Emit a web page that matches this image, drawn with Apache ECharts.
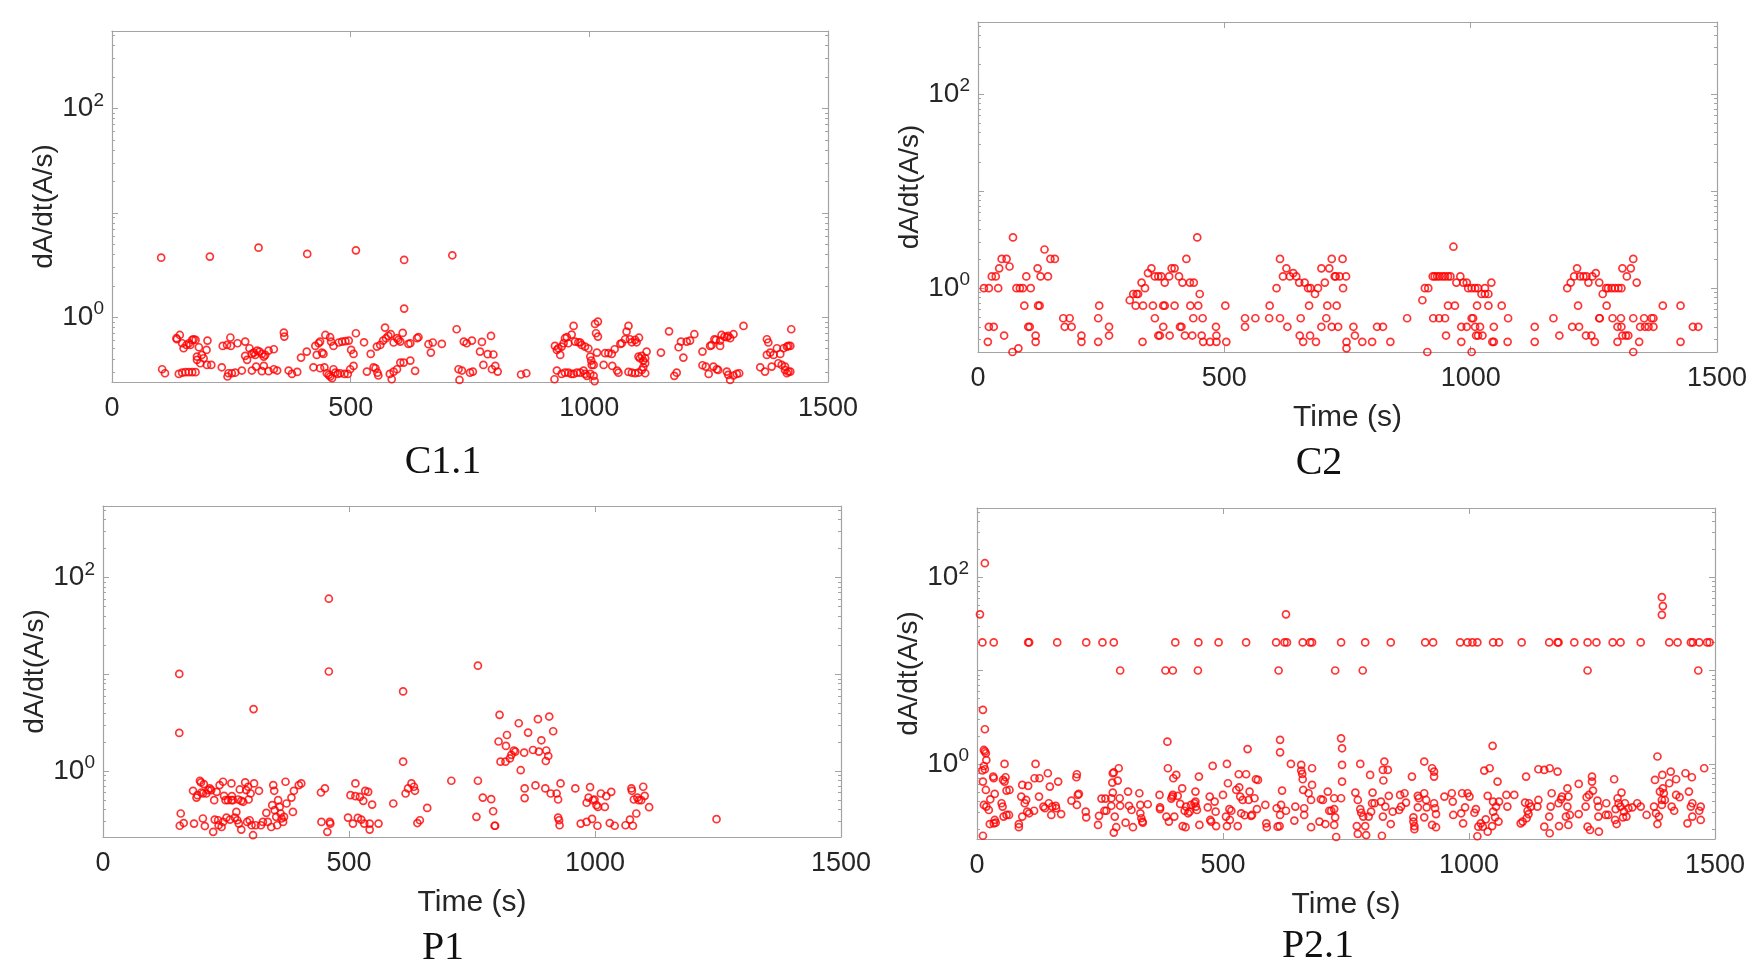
<!DOCTYPE html>
<html>
<head>
<meta charset="utf-8">
<script src="https://cdn.jsdelivr.net/npm/echarts@6/dist/echarts.min.js"></script>
<style>
  html, body { margin: 0; padding: 0; background: #fff; }
  #chart { width: 1763px; height: 975px; }
</style>
</head>
<body>
<div id="chart"></div>
<script>
// [time (s), dA/dt (A/s)]
const c11 = [
  [103,3.72],[205,3.81],[307,4.64],[409,4.04],[511,4.37],[612,3.54],[612,1.21],[713,3.92],
  [105,0.318],[111,0.291],[136,0.616],[142,0.677],[135,0.630],[147,0.564],[150,0.505],[156,0.543],[161,0.564],[164,0.543],[168,0.607],[171,0.616],[175,0.607],
  [140,0.287],[147,0.295],[154,0.298],[161,0.298],[168,0.298],[175,0.298],
  [182,0.516],[178,0.420],[178,0.391],[185,0.363],[188,0.436],[192,0.405],[198,0.487],[199,0.350],[200,0.598],[208,0.350],
  [230,0.332],[232,0.532],[241,0.543],[242,0.271],[244,0.291],[248,0.640],[249,0.532],[251,0.291],[258,0.295],[263,0.564],[272,0.309],
  [279,0.585],[279,0.427],[283,0.391],[288,0.505],[293,0.446],[297,0.459],[300,0.436],[304,0.480],[309,0.469],[314,0.446],[318,0.420],[321,0.436],[328,0.480],[339,0.494],
  [293,0.309],[302,0.337],[314,0.305],[318,0.342],[328,0.305],[339,0.318],[346,0.309],
  [360,0.713],[361,0.653],[370,0.309],[377,0.287],[388,0.300],[396,0.411],[408,0.469],
  [422,0.332],[426,0.532],[429,0.436],[433,0.564],[436,0.585],[440,0.459],[443,0.446],[447,0.677],[457,0.644],[459,0.585],[464,0.532],[475,0.573],[482,0.585],[489,0.590],[496,0.598],[501,0.487],[506,0.446],
  [436,0.325],[445,0.332],[450,0.291],[454,0.281],[457,0.271],[461,0.261],[464,0.318],[468,0.295],[473,0.287],[478,0.291],[487,0.287],[494,0.287],[499,0.318],[506,0.342],
  [511,0.703],[528,0.576],[534,0.302],[542,0.446],[548,0.332],[552,0.325],[556,0.295],[558,0.277],[555,0.524],[562,0.543],[568,0.598],[572,0.796],[574,0.630],[579,0.663],[584,0.688],[590,0.573],[597,0.630],[600,0.607],[604,0.585],[609,0.708],[621,0.556],[625,0.564],
  [582,0.287],[586,0.255],[590,0.302],[597,0.318],[604,0.368],[611,0.368],[625,0.385],[635,0.307],
  [639,0.630],[642,0.644],[663,0.552],[668,0.459],[672,0.573],[691,0.556],
  [722,0.768],[726,0.318],[728,0.251],[733,0.309],[737,0.585],[743,0.564],[750,0.295],[754,0.598],[756,0.302],
  [771,0.469],[775,0.581],[778,0.350],[787,0.443],[794,0.663],[796,0.318],[799,0.440],[803,0.342],[808,0.302],
  [857,0.283],[868,0.291],[927,0.255],
  [928,0.532],[932,0.487],[935,0.505],[939,0.436],[942,0.524],[946,0.564],[949,0.630],[953,0.644],[956,0.564],[963,0.683],[967,0.826],[970,0.585],[977,0.576],[981,0.573],[984,0.543],[991,0.524],[998,0.502],[1002,0.420],[1004,0.385],[1005,0.350],[1009,0.350],[1014,0.703],[1018,0.653],[1012,0.863],[1018,0.909],
  [932,0.309],[942,0.287],[949,0.295],[956,0.295],[962,0.287],[967,0.287],[974,0.295],[981,0.295],[988,0.309],[991,0.287],[995,0.275],[1002,0.287],[1009,0.275],[1011,0.245],
  [1016,0.459],[1030,0.350],[1033,0.453],[1040,0.453],[1047,0.446],[1048,0.342],[1053,0.494],[1058,0.309],[1061,0.295],[1065,0.556],[1068,0.564],[1075,0.616],[1078,0.729],[1082,0.826],[1085,0.616],[1089,0.576],[1096,0.607],[1099,0.576],[1104,0.637],[1103,0.420],[1106,0.405],[1110,0.427],[1113,0.385],[1117,0.405],[1120,0.469],[1117,0.363],[1113,0.332],[1110,0.313],[1117,0.291],
  [1082,0.300],[1089,0.295],[1096,0.291],[1103,0.295],
  [1150,0.459],[1167,0.733],[1178,0.275],[1183,0.295],[1187,0.516],[1192,0.585],[1197,0.411],[1204,0.585],[1211,0.598],[1220,0.688],
  [1237,0.469],[1237,0.347],[1244,0.337],[1250,0.287],[1253,0.532],[1256,0.540],[1260,0.337],[1262,0.616],[1265,0.607],[1267,0.318],[1270,0.313],[1274,0.598],[1274,0.532],[1277,0.677],[1283,0.653],[1288,0.644],[1291,0.663],[1295,0.630],[1302,0.688],[1288,0.302],[1291,0.281],[1295,0.251],[1302,0.277],[1309,0.287],[1314,0.291],[1323,0.826],
  [1358,0.332],[1368,0.302],[1372,0.616],[1375,0.573],[1372,0.436],[1379,0.459],[1382,0.337],[1386,0.436],[1393,0.505],[1396,0.363],[1400,0.446],[1403,0.350],[1407,0.505],[1410,0.337],[1414,0.524],[1417,0.532],[1421,0.532],[1410,0.313],[1414,0.291],[1417,0.302],[1421,0.302],[1423,0.768]
];

const c2 = [
  [12,1.0],[22,1.0],[20,0.28],[22,0.40],[32,0.40],[28,1.32],[36,1.32],[41,1.0],[43,1.6],[48,2.0],[53,0.325],[58,2.0],[64,1.67],[70,0.22],[71,3.33],[78,1.0],[82,0.24],[85,1.0],[91,1.0],[94,0.66],[98,1.32],[102,0.40],[105,0.40],[107,1.0],[117,0.325],[117,0.28],[121,1.6],[122,0.66],[125,0.66],[127,1.32],[135,2.5],[142,1.32],[147,2.0],[156,2.0],
  [173,0.49],[186,0.49],[176,0.40],[190,0.40],[210,0.325],[210,0.28],[244,0.49],[246,0.66],[244,0.28],[266,0.40],[266,0.325],
  [308,0.75],[315,0.87],[322,0.87],[325,0.87],[320,0.66],[332,1.14],[335,0.66],[334,0.28],[339,1.0],[345,1.43],[352,1.6],[359,1.32],[366,1.32],[372,1.32],[379,1.14],[388,1.32],[393,1.6],[399,1.6],[408,1.32],[415,1.14],[423,2.0],[430,1.14],[438,1.14],[445,3.33],[450,0.87],[447,0.66],[431,0.66],[456,0.49],[454,0.325],[457,0.28],[471,0.28],[484,0.28],[483,0.40],[484,0.325],
  [355,0.66],[359,0.49],[366,0.325],[369,0.325],[376,0.40],[376,0.66],[379,0.66],[389,0.325],[399,0.66],[410,0.40],[413,0.40],[420,0.325],[435,0.325],[437,0.49],[502,0.66],[504,0.28],
  [542,0.49],[542,0.40],[563,0.49],[591,0.49],[592,0.66],[606,1.0],[613,2.0],[619,1.32],[613,0.49],[628,0.40],[626,1.6],[633,1.32],[640,1.43],[646,1.32],[652,1.14],[653,0.325],[660,0.28],[655,0.49],[663,1.14],[670,1.0],[675,1.0],[684,0.87],[690,1.0],[674,0.325],[672,0.66],[686,0.28],[697,0.40],[697,1.6],[704,1.14],[707,0.49],[709,0.66],[713,1.6],[718,2.0],[724,1.32],[728,0.66],[731,0.40],[718,0.40],[726,1.32],[734,1.32],[740,2.0],[741,1.0],[747,1.32],[748,0.28],[748,0.24],
  [762,0.40],[765,0.325],[780,0.28],[800,0.28],[810,0.40],[822,0.40],[837,0.28],[871,0.49],[902,0.75],[907,1.0],[912,0.22],[914,1.0],[923,1.32],[927,1.32],[932,1.32],[937,1.32],[943,1.32],[948,1.32],[954,1.32],[959,1.32],[965,2.67],[971,1.14],[979,1.32],[985,1.14],[992,1.14],[995,1.0],[1002,1.0],[1009,1.0],[1015,1.0],[1022,0.87],[1029,0.87],[1036,0.87],[1029,1.0],[1042,1.14],
  [924,0.49],[936,0.49],[948,0.49],[950,0.325],[954,0.66],[968,0.66],[981,0.40],[981,0.28],[992,0.40],[1002,0.49],[1005,0.49],[1009,0.40],[1011,0.325],[1013,0.66],[1015,0.325],[1019,0.40],[1024,0.325],[1036,0.66],[1044,0.28],[1047,0.28],[1047,0.40],[1063,0.66],[1075,0.28],[1076,0.49],[1002,0.22],
  [1130,0.40],[1130,0.28],[1168,0.49],[1180,0.325],[1196,1.0],[1203,1.14],[1210,1.32],[1216,1.6],[1218,0.66],[1222,1.32],[1206,0.40],[1220,0.40],[1229,1.32],[1234,0.325],[1235,1.32],[1239,1.14],[1245,0.325],[1247,1.32],[1252,0.28],[1254,1.43],[1261,1.14],[1268,0.87],[1275,1.0],[1279,1.0],[1286,1.0],[1293,1.0],[1300,1.0],[1306,1.0],
  [1261,0.49],[1262,0.49],[1276,0.66],[1288,0.49],[1298,0.40],[1305,0.49],[1306,0.40],[1308,0.325],[1315,0.325],[1320,0.325],[1308,1.6],[1317,1.32],[1325,1.6],[1330,2.0],[1330,0.49],[1337,1.14],[1342,0.28],[1330,0.22],[1298,0.28],[1344,0.40],[1352,0.49],[1354,0.40],[1361,0.40],[1367,0.49],[1371,0.49],[1371,0.40],[1390,0.66],[1426,0.66],[1426,0.28],[1451,0.40],[1462,0.40]
];

const p1 = [
  [155,10.1],[155,2.48],[306,4.37],[459,60.5],[459,10.7],[610,6.66],[610,1.25],[708,0.794],[762,12.3],
  [158,0.364],[156,0.272],[164,0.290],[185,0.286],[183,0.625],[190,0.532],[192,0.563],[197,0.794],[199,0.763],[200,0.600],[203,0.586],[205,0.733],[203,0.323],[207,0.270],[210,0.586],[214,0.635],[217,0.661],[220,0.635],[224,0.235],[226,0.500],[227,0.315],[231,0.610],[234,0.310],[235,0.275],[237,0.716],[241,0.264],[244,0.775],[244,0.298],[246,0.554],[249,0.500],[251,0.330],[254,0.500],[258,0.315],[261,0.745],[261,0.500],[262,0.550],[264,0.500],[268,0.330],[271,0.378],[273,0.310],[275,0.508],[276,0.286],[278,0.645],[281,0.492],[281,0.248],[285,0.481],[288,0.205],[289,0.763],[291,0.635],[293,0.298],[295,0.688],[296,0.508],[298,0.310],[300,0.586],[302,0.275],[305,0.217],[307,0.745],[310,0.275],[317,0.625],[321,0.275],[325,0.298],[332,0.370],[335,0.298],[342,0.264],[344,0.444],[346,0.716],[348,0.625],[349,0.394],[352,0.336],[354,0.275],[356,0.500],[359,0.426],[361,0.364],[363,0.323],[366,0.298],[368,0.336],[371,0.775],[373,0.462],[383,0.532],[386,0.378],[388,0.625],[398,0.716],[403,0.745],
  [443,0.600],[451,0.661],[444,0.298],[456,0.235],[461,0.298],[462,0.286],[498,0.330],[503,0.563],[508,0.286],[513,0.745],[513,0.550],[518,0.328],[522,0.541],[525,0.315],[529,0.492],[531,0.286],[533,0.625],[539,0.610],[542,0.286],[542,0.248],[547,0.450],[560,0.286],[590,0.462],[615,0.586],[620,0.661],[627,0.745],[632,0.688],[634,0.625],[659,0.416],[639,0.290],[644,0.310],
  [762,0.794],[759,0.336],[772,0.532],[789,0.512],[793,0.384],[796,0.272],[797,0.272],
  [806,3.81],[804,2.02],[808,1.25],[818,1.25],[819,1.82],[821,2.36],[827,1.35],[830,1.47],[835,1.63],[838,1.59],[845,3.12],[849,1.02],[856,1.55],[857,0.661],[857,0.525],[864,2.50],[874,1.65],[879,0.710],[884,3.44],[886,1.59],[891,2.08],[899,0.661],[900,1.27],[901,1.63],[905,1.43],[907,3.66],[910,0.586],[915,2.58],[922,0.586],[925,0.508],[925,0.330],[927,0.310],[928,0.275],[930,0.745],
  [960,0.661],[983,0.470],[987,0.532],[990,0.682],[996,0.500],[999,0.508],[1003,0.444],[1006,0.426],[1012,0.586],[1020,0.426],[1023,0.550],[1033,0.610],[971,0.286],[983,0.298],[994,0.320],[1005,0.272],[1030,0.290],[1040,0.272],[1062,0.275],[1071,0.315],[1077,0.272],[1074,0.661],[1075,0.625],[1079,0.508],[1084,0.364],[1086,0.532],[1089,0.500],[1094,0.500],[1098,0.688],[1101,0.554],[1110,0.423],[1247,0.318]
];

const p21 = [
  [6,40],[16,141],[11,20],[34,20],[104,20],[106,20],[163,20],[222,20],[255,20],[278,20],[403,20],[450,20],[491,20],[547,20],[608,20],[625,20],[630,20],[662,20],[677,20],[681,20],[740,20],[291,10],[383,10],[398,10],[449,10],[613,10],[728,10],[628,40],
  [12,3.79],[16,2.35],[14,1.41],[16,1.36],[18,1.30],[19,1.10],[14,0.95],[11,0.85],[12,0.647],[16,0.877],[18,0.526],[14,0.364],[19,0.349],[24,0.321],[27,0.418],[26,0.227],[12,0.170],[33,0.731],[34,0.702],[36,0.477],[36,0.251],[38,0.235],[34,0.231],[50,0.379],[52,0.349],[53,0.674],[56,1.0],[58,0.720],[56,0.647],[60,0.518],[54,0.273],[60,0.284],[66,0.526],[65,0.284],
  [85,0.227],[85,0.210],[90,0.447],[92,0.596],[92,0.273],[97,0.379],[100,0.411],[102,0.308],[104,0.582],[106,0.296],[116,0.315],[119,1.0],[117,0.702],[126,0.447],[127,0.702],[135,0.349],[138,0.335],[144,0.794],[148,0.572],[146,0.379],[151,0.284],[153,0.349],[160,0.356],[161,0.335],[165,0.647],[171,0.290],
  [192,0.404],[202,0.720],[203,0.775],[205,0.466],[203,0.364],[207,0.477],[221,0.308],[222,0.268],[246,0.222],[248,0.278],[253,0.425],[261,0.425],[259,0.315],[263,0.315],[273,0.356],[273,0.429],[276,0.493],[275,0.631],[276,0.794],[278,0.810],[280,0.273],[283,0.210],[278,0.184],[286,0.663],[288,0.899],[290,0.429],[291,0.356],[307,0.505],[309,0.356],[314,0.321],[317,0.210],[302,0.235],[330,0.485],[332,0.364],[332,0.296],[334,0.262],[336,0.241],[337,0.235],[347,0.370],
  [371,0.466],[372,0.343],[372,0.328],[388,0.899],[387,1.73],[385,0.273],[390,0.241],[395,0.425],[397,0.447],[398,0.466],[399,0.702],[401,0.273],[405,0.762],[408,0.455],[413,0.373],[417,0.548],[418,0.216],[424,0.210],[425,0.349],[422,0.315],[429,0.296],[432,0.308],[435,0.364],[442,0.379],[444,0.505],[444,0.395],[445,0.349],[447,0.321],[451,0.731],[452,0.222],
  [469,0.343],[473,0.447],[474,0.251],[476,0.241],[479,0.952],[483,0.395],[485,0.308],[486,0.216],[500,0.466],[508,1.0],[510,0.621],[506,0.273],[508,0.216],[513,0.328],[514,0.251],[517,0.315],[527,0.526],[530,0.216],[532,0.775],[533,0.562],[535,0.447],[537,0.296],[540,0.411],[544,0.282],[547,0.775],[550,1.44],[552,0.411],[554,0.505],[557,0.278],[559,0.284],[564,0.429],[567,0.685],[569,0.328],[571,0.674],
  [586,0.364],[588,0.231],[589,0.210],[609,0.335],[611,0.213],[615,0.216],[616,0.284],[618,0.364],[616,1.81],[616,1.33],[620,0.518],[628,0.315],[638,1.0],[647,0.349],[645,0.247],[659,0.975],[659,0.848],[661,0.781],[662,0.685],[663,0.526],[665,0.335],[665,0.284],[674,0.485],[679,0.411],[681,0.899],[681,0.596],[679,0.210],[696,0.241],[699,0.418],[703,0.411],[708,0.227],[713,0.505],[716,0.315],[720,0.315],[726,0.328],[726,0.429],[728,0.268],[726,0.222],[730,0.165],[740,1.88],[742,1.47],[742,0.975],[742,0.647],[740,0.429],
  [789,20],[841,20],[911,20],[927,20],[982,20],[997,20],[1007,20],[1017,20],[1049,20],[1061,20],[1107,20],[1163,20],[1180,20],[1182,20],[1214,20],[1241,20],[1259,20],[1292,20],[1308,20],[1349,20],[1407,20],[1424,20],[1451,20],[1455,20],[1468,20],[1484,20],[1489,20],
  [784,10],[1241,10],[1466,10],[1392,61],[1394,49],[1392,39.5],
  [769,0.493],[774,0.411],[772,0.216],[774,0.178],[779,1.0],[779,0.328],[781,0.300],[785,0.273],[789,0.216],[791,0.173],[796,0.273],[799,0.762],[801,0.308],[803,0.379],[804,0.493],[808,0.379],[821,0.395],[825,0.273],[823,0.170],[826,0.664],[825,0.863],[828,1.06],[830,0.349],[835,0.863],[837,0.455],[841,0.227],[845,0.308],[858,0.321],[862,0.349],[860,0.466],[869,0.485],[872,0.385],[884,0.731],[887,0.268],[887,0.241],[889,0.216],[889,0.200],[896,0.455],[898,0.429],[896,0.343],
  [909,1.06],[909,0.485],[909,0.268],[914,0.343],[913,0.411],[925,0.899],[929,0.828],[929,0.731],[929,0.379],[931,0.335],[933,0.290],[925,0.222],[933,0.210],[950,0.447],[965,0.485],[967,0.395],[968,0.284],[984,0.296],[986,0.485],[988,0.231],[992,0.343],[997,0.485],[1001,0.447],[1011,0.300],[1014,0.328],[1019,0.213],[1017,0.168],[1024,0.231],[1028,0.213],[1031,0.848],[1034,0.255],[1038,0.188],[1038,0.455],[1042,0.899],[1047,0.216],[1048,1.56],[1049,0.308],[1049,0.395],[1053,0.268],[1055,0.349],[1058,0.647],[1060,0.241],[1061,0.395],
  [1076,0.466],[1078,0.349],[1092,0.466],[1105,0.231],[1109,0.241],[1114,0.385],[1116,0.731],[1117,0.262],[1119,0.315],[1121,0.290],[1122,0.379],[1126,0.349],[1139,0.349],[1141,0.877],[1141,0.411],[1153,0.863],[1153,0.213],[1163,0.273],[1164,0.899],[1164,0.181],[1166,0.349],[1168,0.485],[1180,0.828],[1182,0.379],[1183,0.216],[1187,0.418],[1189,0.447],[1197,0.273],[1200,0.548],[1200,0.349],[1202,0.222],[1202,0.447],[1205,0.284],
  [1223,0.611],[1223,0.290],[1237,0.349],[1239,0.440],[1241,0.213],[1244,0.466],[1246,0.196],[1250,0.731],[1250,0.647],[1252,0.518],[1261,0.404],[1263,0.349],[1263,0.273],[1264,0.188],[1278,0.284],[1279,0.379],[1283,0.284],[1295,0.685],[1297,0.251],[1298,0.328],[1300,0.227],[1302,0.429],[1304,0.379],[1308,0.349],[1310,0.493],[1313,0.268],[1315,0.308],[1317,0.379],[1320,0.273],[1324,0.335],[1332,0.343],[1342,0.379],[1349,0.349],[1361,0.284],
  [1376,0.349],[1378,0.674],[1380,0.296],[1383,1.20],[1383,0.227],[1386,0.273],[1388,0.505],[1392,0.411],[1393,0.762],[1392,0.364],[1394,0.548],[1396,0.485],[1398,0.411],[1407,0.621],[1410,0.828],[1412,0.349],[1417,0.315],[1421,0.685],[1421,0.466],[1428,0.440],[1440,0.794],[1444,0.231],[1447,0.505],[1451,0.349],[1453,0.720],[1454,0.379],[1454,0.273],[1468,0.315],[1471,0.349],[1471,0.251],[1478,0.899]
];

const panelNames = ['C1.1', 'C2', 'P1', 'P2.1'];
const panelData = [c11, c2, p1, p21];
const yMins = [0.24, 0.22, 0.208, 0.157];
const yMax = 550;
const xTicks = [0, 500, 1000, 1500];
const xNames = ['', 'Time (s)', 'Time (s)', 'Time (s)'];

// plot boxes [left, top, width, height]
const boxes = [
  [112, 31, 716, 351],
  [978, 22, 739, 330],
  [103, 506, 738, 331],
  [977, 508, 738, 331]
];
const titlePos = [[443, 462], [1319, 463], [443, 948], [1318, 946]];

const axisGray = '#a3a3a3';
const textDark = '#262626';
const sans = '"Liberation Sans", Arial, sans-serif';

const chart = echarts.init(document.getElementById('chart'));

function powLabel(v) {
  const e = Math.log10(v);
  const r = Math.round(e);
  if (Math.abs(e - r) > 1e-6 || (r !== 0 && r !== 2)) return '';
  return '{b|10}{s|' + r + '}';
}

const grids = [], xAxes = [], yAxes = [], series = [];

boxes.forEach((b) => {
  grids.push({ left: b[0], top: b[1], width: b[2], height: b[3], outerBoundsMode: 'none' });
});

// bottom x axes
boxes.forEach((b, i) => {
  xAxes.push({
    type: 'value', gridIndex: i, position: 'bottom',
    min: xTicks[0], max: xTicks[xTicks.length - 1], interval: 500,
    name: xNames[i], nameLocation: 'middle', nameGap: 51,
    nameTextStyle: { fontFamily: sans, fontSize: 30, color: textDark },
    axisLine: { show: true, onZero: false, lineStyle: { color: axisGray, width: 1.2 } },
    axisTick: { show: true, inside: true, length: 6, lineStyle: { color: axisGray } },
    splitLine: { show: false },
    axisLabel: { fontFamily: sans, fontSize: 27, color: textDark, margin: 13, formatter: (v) => String(v) }
  });
});
// top x axes (box)
boxes.forEach((b, i) => {
  xAxes.push({
    type: 'value', gridIndex: i, position: 'top',
    min: 0, max: 1500, interval: 500,
    axisLine: { show: true, onZero: false, lineStyle: { color: axisGray, width: 1.2 } },
    axisTick: { show: true, inside: true, length: 6, lineStyle: { color: axisGray } },
    splitLine: { show: false },
    axisLabel: { show: false }
  });
});
// left y axes
boxes.forEach((b, i) => {
  yAxes.push({
    type: 'log', logBase: 10, gridIndex: i, position: 'left',
    min: yMins[i], max: yMax,
    name: 'dA/dt(A/s)', nameLocation: 'middle', nameRotate: 90, nameGap: 49,
    nameTextStyle: { fontFamily: sans, fontSize: 28, color: textDark },
    axisLine: { show: true, onZero: false, lineStyle: { color: axisGray, width: 1.2 } },
    axisTick: { show: true, inside: true, length: 6, lineStyle: { color: axisGray } },
    minorTick: { show: true, splitNumber: 9, length: 3, lineStyle: { color: axisGray } },
    splitLine: { show: false },
    minorSplitLine: { show: false },
    axisLabel: {
      margin: 8, showMinLabel: false, showMaxLabel: false,
      formatter: powLabel,
      rich: {
        b: { fontFamily: sans, fontSize: 28, color: textDark },
        s: { fontFamily: sans, fontSize: 19, color: textDark, padding: [0, 0, 16, 0] }
      }
    }
  });
});
// right y axes (box)
boxes.forEach((b, i) => {
  yAxes.push({
    type: 'log', logBase: 10, gridIndex: i, position: 'right',
    min: yMins[i], max: yMax,
    axisLine: { show: true, onZero: false, lineStyle: { color: axisGray, width: 1.2 } },
    axisTick: { show: true, inside: true, length: 6, lineStyle: { color: axisGray } },
    minorTick: { show: true, splitNumber: 9, length: 3, lineStyle: { color: axisGray } },
    splitLine: { show: false },
    axisLabel: { show: false }
  });
});

panelData.forEach((d, i) => {
  series.push({
    type: 'scatter', name: panelNames[i],
    xAxisIndex: i, yAxisIndex: i,
    data: d,
    symbol: 'circle', symbolSize: 7,
    itemStyle: { color: 'rgba(0,0,0,0)', borderColor: '#ff0000', borderWidth: 1.7 },
    emphasis: { disabled: true },
    clip: true
  });
});

const graphics = panelNames.map((n, i) => ({
  type: 'text', x: titlePos[i][0], y: titlePos[i][1],
  style: {
    text: n, fontFamily: '"Liberation Serif", "Times New Roman", serif', fontSize: 40,
    fill: '#111', align: 'center', verticalAlign: 'middle'
  }
}));

chart.setOption({
  animation: false,
  backgroundColor: '#ffffff',
  grid: grids,
  xAxis: xAxes,
  yAxis: yAxes,
  series: series,
  graphic: graphics
});

window.addEventListener('resize', () => chart.resize());
</script>
</body>
</html>
